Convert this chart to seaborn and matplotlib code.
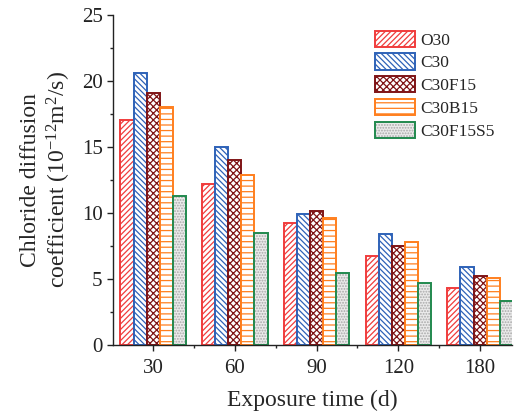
import matplotlib
matplotlib.use("Agg")
import matplotlib.pyplot as plt
import matplotlib.colors as mcolors
import seaborn as sns
import pandas as pd
from matplotlib.ticker import MultipleLocator, FixedLocator

times = ["30", "60", "90", "120", "180"]
mixes = ["O30", "C30", "C30F15", "C30B15", "C30F15S5"]
O30 = [17.05, 12.2, 9.2, 6.7, 4.3]
C30 = [20.6, 15.0, 9.9, 8.4, 5.9]
C30F15 = [19.1, 14.0, 10.15, 7.5, 5.2]
C30B15 = [18.0, 12.9, 9.6, 7.8, 5.1]
C30F15S5 = [11.3, 8.5, 5.45, 4.65, 3.35]
series = [O30, C30, C30F15, C30B15, C30F15S5]

rows = []
for m, vals in zip(mixes, series):
    for t, v in zip(times, vals):
        rows.append({"time": t, "mix": m, "D": v})
df = pd.DataFrame(rows)

sns.set_style("ticks")
plt.rcParams["font.family"] = ["Liberation Serif", "DejaVu Serif"]
plt.rcParams["mathtext.fontset"] = "custom"
plt.rcParams["mathtext.rm"] = "Liberation Serif"
plt.rcParams["mathtext.default"] = "regular"
plt.rcParams["hatch.linewidth"] = 0.9

edges = ["#F03C3C", "#2E62B8", "#7F1416", "#FF7F1E", "#21894E"]
hatch_cols = ["#F03C3C", "#2E62B8", "#7F1416", "#FF7F1E", "#A8A8A8"]
hatches = ["//////", "\\\\\\\\\\\\", "xxxxx", "---", "......"]
faces = ["white", "white", "white", "white", "#EBEBEB"]

fig = plt.figure(figsize=(5.14, 4.11), dpi=100)
ax = fig.add_axes([0.22, 0.161, 0.776, 0.8025])
sns.barplot(data=df, x="time", y="D", hue="mix", order=times, hue_order=mixes,
            width=0.8, ax=ax, legend=False, saturation=1)
for i, cont in enumerate(ax.containers):
    for p in cont.patches:
        p.set_facecolor(faces[i])
        p.set_edgecolor(edges[i])
        p.set_hatch(hatches[i])
        p.set_linewidth(1.4)
        p._hatch_color = mcolors.to_rgba(hatch_cols[i])

ax.set_ylim(0, 25)
ax.set_xlim(-0.49, 4.39)
ax.yaxis.set_major_locator(MultipleLocator(5))
ax.yaxis.set_minor_locator(MultipleLocator(2.5))
ax.xaxis.set_minor_locator(FixedLocator([0.5, 1.5, 2.5, 3.5]))
ax.tick_params(axis="both", which="major", direction="out", length=4, width=1.0, labelsize=15, colors="#222222")
ax.tick_params(axis="x", which="major", pad=6.5)
ax.tick_params(axis="both", which="minor", direction="out", length=2.5, width=1.0)
for s in ["top", "right"]:
    ax.spines[s].set_visible(False)
for s in ["left", "bottom"]:
    ax.spines[s].set_linewidth(1.0)
    ax.spines[s].set_color("#222222")

ax.set_xlabel("Exposure time (d)", fontsize=17, labelpad=8)
ax.set_ylabel("Chloride diffusion\ncoefficient (10$^{-12}$m$^2$/s)", fontsize=17, labelpad=6)

handles = [cont.patches[0] for cont in ax.containers]
leg = ax.legend(handles, mixes, loc="upper right", bbox_to_anchor=(0.995, 1.0), frameon=False,
                fontsize=12.5, handlelength=2.3, handleheight=1.05, labelspacing=0.28, handletextpad=0.3)
for h, hc in zip(leg.get_patches(), hatch_cols):
    h._hatch_color = mcolors.to_rgba(hc)

fig.savefig("out.png", dpi=100)
